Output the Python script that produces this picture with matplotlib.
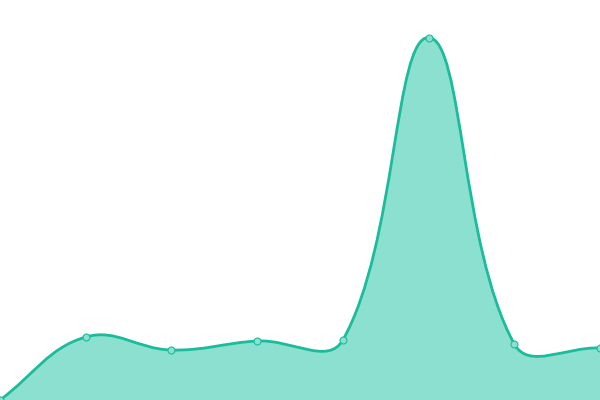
import numpy as np
import matplotlib
matplotlib.use("Agg")
import matplotlib.pyplot as plt
from matplotlib.path import Path
from matplotlib.patches import PathPatch

# values (height above the baseline, y range 0..400)
labels = ["A", "B", "C", "D", "E", "F", "G", "H"]
values = [0, 63, 50, 59, 60, 362.5, 56, 52]

line_col = "#1abc9c"
fill_col = "#8ce0cf"
tension = 0.4

fig = plt.figure(figsize=(6, 4), dpi=100)
ax = fig.add_axes([0, 0, 1, 1])
ax.set_xlim(0, len(values) - 1)
ax.set_ylim(0, 400)
ax.axis("off")

# spline control points (chart.js style), worked out in display space
xs = np.arange(len(values))
pts = ax.transData.transform(np.column_stack([xs, values]))
n = len(pts)
cps = []
for i in range(n):
    p1 = pts[i]
    p0 = pts[i - 1] if i > 0 else p1
    p2 = pts[i + 1] if i < n - 1 else p1
    d01 = np.hypot(*(p1 - p0))
    d12 = np.hypot(*(p2 - p1))
    s01 = d01 / (d01 + d12) if d01 + d12 else 0
    s12 = d12 / (d01 + d12) if d01 + d12 else 0
    fa = tension * s01
    fb = tension * s12
    cps.append((p1 - fa * (p2 - p0), p1 + fb * (p2 - p0)))

verts = [pts[0]]
codes = [Path.MOVETO]
for i in range(n - 1):
    verts += [cps[i][1], cps[i + 1][0], pts[i + 1]]
    codes += [Path.CURVE4] * 3
inv = ax.transData.inverted()
verts = inv.transform(np.array(verts))

line_path = Path(verts, codes)
fill_verts = np.vstack([verts, [[xs[-1], 0], [xs[0], 0], verts[0]]])
fill_codes = codes + [Path.LINETO, Path.LINETO, Path.CLOSEPOLY]
fill_path = Path(fill_verts, fill_codes)

ax.add_patch(PathPatch(fill_path, facecolor=fill_col, edgecolor="none", zorder=1))
ax.add_patch(PathPatch(line_path, facecolor="none", edgecolor=line_col, lw=2.0, zorder=2))
ax.plot(xs, values, "o", ms=5, mfc=fill_col, mec=line_col, mew=0.8, zorder=3)

fig.savefig("out.png", dpi=100)
